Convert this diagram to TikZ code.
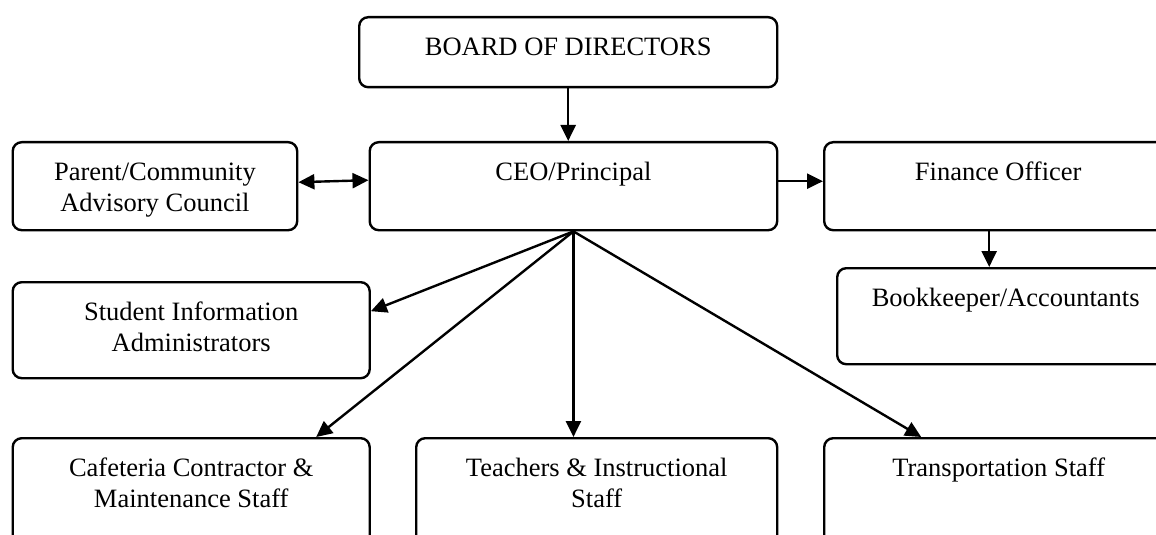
\documentclass[tikz,border=0pt]{standalone}
\usepackage{fontspec}
\setmainfont{Liberation Serif}
\usetikzlibrary{arrows.meta}

\begin{document}
\begin{tikzpicture}[
	x=0.5pt, y=-0.5pt,
	box/.style={
		rectangle,
		draw=black,
		line width=1.2pt,
		align=center,
		rounded corners=4.5pt,
		anchor=north west,
		inner sep=0pt,
		text height=19pt,
		font=\fontsize{13.25pt}{15.5pt}\selectfont
	},
	% second line of text pushes the baseline down
	two/.style={
		text height=34.5pt
	},
	head/.style={
		box,
		text depth=16pt
	},
	mid/.style={
		box,
		text depth=25pt
	},
	midtwo/.style={
		box, two,
		text depth=9.5pt
	},
	lowtwo/.style={
		box, two,
		text depth=13.5pt
	},
	low/.style={
		box,
		text depth=29pt
	},
	bottom/.style={
		box,
		text depth=45pt
	},
	bottomtwo/.style={
		box, two,
		text depth=29.5pt
	},
	link/.style={
		line width=1.2pt,
		-{Triangle[length=8pt,width=7.5pt]}
	}
]

\path[use as bounding box] (0,0) rectangle (1156,535);

\node[head, minimum width=209pt] (board) at (358,16) {BOARD OF DIRECTORS};

\node[midtwo, minimum width=142.25pt] (council) at (11.5,141) {Parent/Community\\Advisory Council};
\node[mid, minimum width=203.75pt] (ceo) at (368.5,141) {CEO/Principal};
\node[mid, minimum width=174pt] (finance) at (823,141) {Finance Officer};

\node[low, minimum width=168.5pt] (books) at (836,267) {Bookkeeper/Accountants};
\node[lowtwo, minimum width=178.5pt] (students) at (11.5,281) {Student Information\\Administrators};

\node[bottomtwo, minimum width=178.5pt] (cafeteria) at (11.5,437) {Cafeteria Contractor \&\\Maintenance Staff};
\node[bottomtwo, minimum width=180.5pt] (teachers) at (415,437) {Teachers \& Instructional\\Staff};
\node[bottom, minimum width=174.5pt] (transport) at (823,437) {Transportation Staff};

\draw[link] (board.south) -- (board.south |- ceo.north);
\draw[link, {Triangle[length=8pt,width=7.5pt]}-{Triangle[length=8pt,width=7.5pt]}]
	([yshift=2pt]council.east) -- ([yshift=3pt]ceo.west);
\draw[link] ([yshift=2.5pt]ceo.east) -- ([yshift=2.5pt]finance.west);
\draw[link] ([xshift=-4.5pt]finance.south) -- ([xshift=-4.5pt]finance.south |- books.north);

% reports fanning out below the CEO
\draw[link] (ceo.south) -- ([yshift=9.5pt]students.east);
\draw[link] (ceo.south) -- ([xshift=62.5pt]cafeteria.north);
\draw[link] (ceo.south) -- (ceo.south |- teachers.north);
\draw[link] (ceo.south) -- ([xshift=-38.75pt]transport.north);

\end{tikzpicture}
\end{document}
